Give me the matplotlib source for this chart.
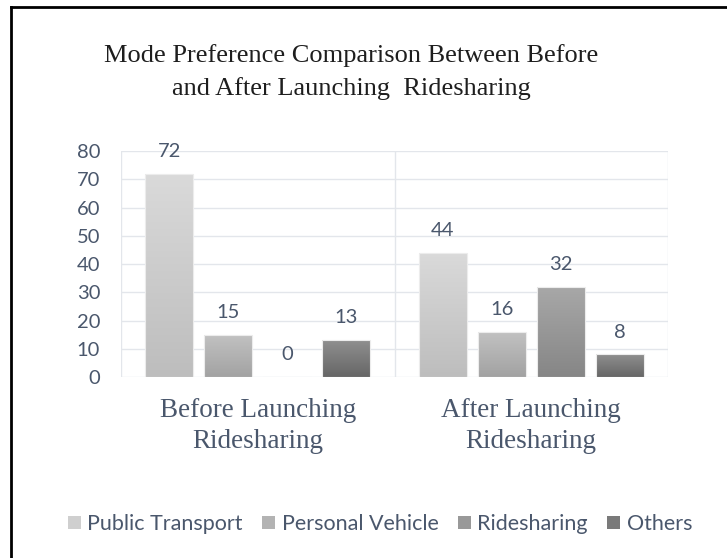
import numpy as np
import matplotlib
matplotlib.use("Agg")
import matplotlib.pyplot as plt
from matplotlib.colors import LinearSegmentedColormap
from matplotlib.patches import Patch
from matplotlib.lines import Line2D

categories = ["Before Launching\nRidesharing", "After Launching\nRidesharing"]
series_names = ["Public Transport", "Personal Vehicle", "Ridesharing", "Others"]
public_transport = [72, 44]
personal_vehicle = [15, 16]
ridesharing = [0, 32]
others = [13, 8]
series_values = [public_transport, personal_vehicle, ridesharing, others]
y_ticks = [0, 10, 20, 30, 40, 50, 60, 70, 80]

# gradient colours (top, bottom) per series
grad_colors = [("#dadada", "#bdbdbd"), ("#c2c2c2", "#a2a2a2"),
               ("#a8a8a8", "#868686"), ("#8f8f8f", "#666666")]
legend_colors = ["#cfcfcf", "#b3b3b3", "#999999", "#7a7a7a"]

text_col = "#4a576c"
sans = ["Lato", "DejaVu Sans"]
serif = ["Liberation Serif", "DejaVu Serif"]

fig = plt.figure(figsize=(7.27, 5.58), dpi=100)
ax = fig.add_axes([121/727, 1-377/558, (668-121)/727, (377-151)/558])

n = len(series_names)
pitch = 0.2153
width = 0.175
x = np.arange(len(categories))
grad = np.linspace(0, 1, 256).reshape(-1, 1)

for i, (name, vals) in enumerate(zip(series_names, series_values)):
    offs = (i - (n - 1) / 2) * pitch
    bars = ax.bar(x + offs, vals, width, facecolor="none", edgecolor="#ececec",
                  linewidth=0.8, zorder=3, label=name)
    cmap = LinearSegmentedColormap.from_list("g%d" % i, [grad_colors[i][1], grad_colors[i][0]])
    for b, v in zip(bars, vals):
        if v > 0:
            bb = b.get_bbox()
            im = ax.imshow(grad, cmap=cmap, aspect="auto", origin="lower",
                           extent=[bb.x0, bb.x1, bb.y0, bb.y1], zorder=2,
                           interpolation="bilinear")
            im.set_clip_path(b)
        ax.annotate(str(v), (b.get_x() + b.get_width() / 2, v),
                    xytext=(0, 10), textcoords="offset points",
                    ha="center", va="bottom", fontsize=14.5, color=text_col,
                    family=sans)

ax.set_xlim(-0.5, len(categories) - 0.5)
ax.set_ylim(0, 80)
ax.set_yticks(y_ticks)
ax.set_yticklabels([str(t) for t in y_ticks], fontsize=14.5, color=text_col, family=sans)
ax.tick_params(axis="y", length=0, pad=15)
ax.set_xticks(x)
ax.set_xticklabels(categories, fontsize=19.5, color=text_col, family=serif, linespacing=1.35)
ax.tick_params(axis="x", length=0, pad=15)
for s in ax.spines.values():
    s.set_visible(False)
grid_col = "#e3e6eb"
for t in y_ticks:
    ax.axhline(t, color=grid_col, linewidth=1.0, zorder=1)
for sep in np.arange(-0.5, len(categories), 1.0):
    ax.axvline(sep, color=grid_col, linewidth=1.0, zorder=1)

fig.text(351/727, 1-72/558, "Mode Preference Comparison Between Before\nand After Launching  Ridesharing",
         ha="center", va="center", fontsize=19, family=serif, color="#1e1e1e",
         linespacing=1.6)

handles = [Patch(facecolor=c, edgecolor="none") for c in legend_colors]
fig.legend(handles, series_names, loc="center", bbox_to_anchor=(380/727, 1-524/558),
           ncol=4, frameon=False, prop={"family": sans, "size": 15.5},
           labelcolor=text_col, handlelength=0.6, handleheight=0.6,
           handletextpad=0.3, columnspacing=0.9, borderpad=0)

# border on left and top
fig.add_artist(Line2D([11/727, 11/727], [0, 1-7/558], transform=fig.transFigure,
                      color="black", linewidth=2))
fig.add_artist(Line2D([11/727, 1], [1-7/558, 1-7/558], transform=fig.transFigure,
                      color="black", linewidth=2))

fig.savefig("out.png", dpi=100)
